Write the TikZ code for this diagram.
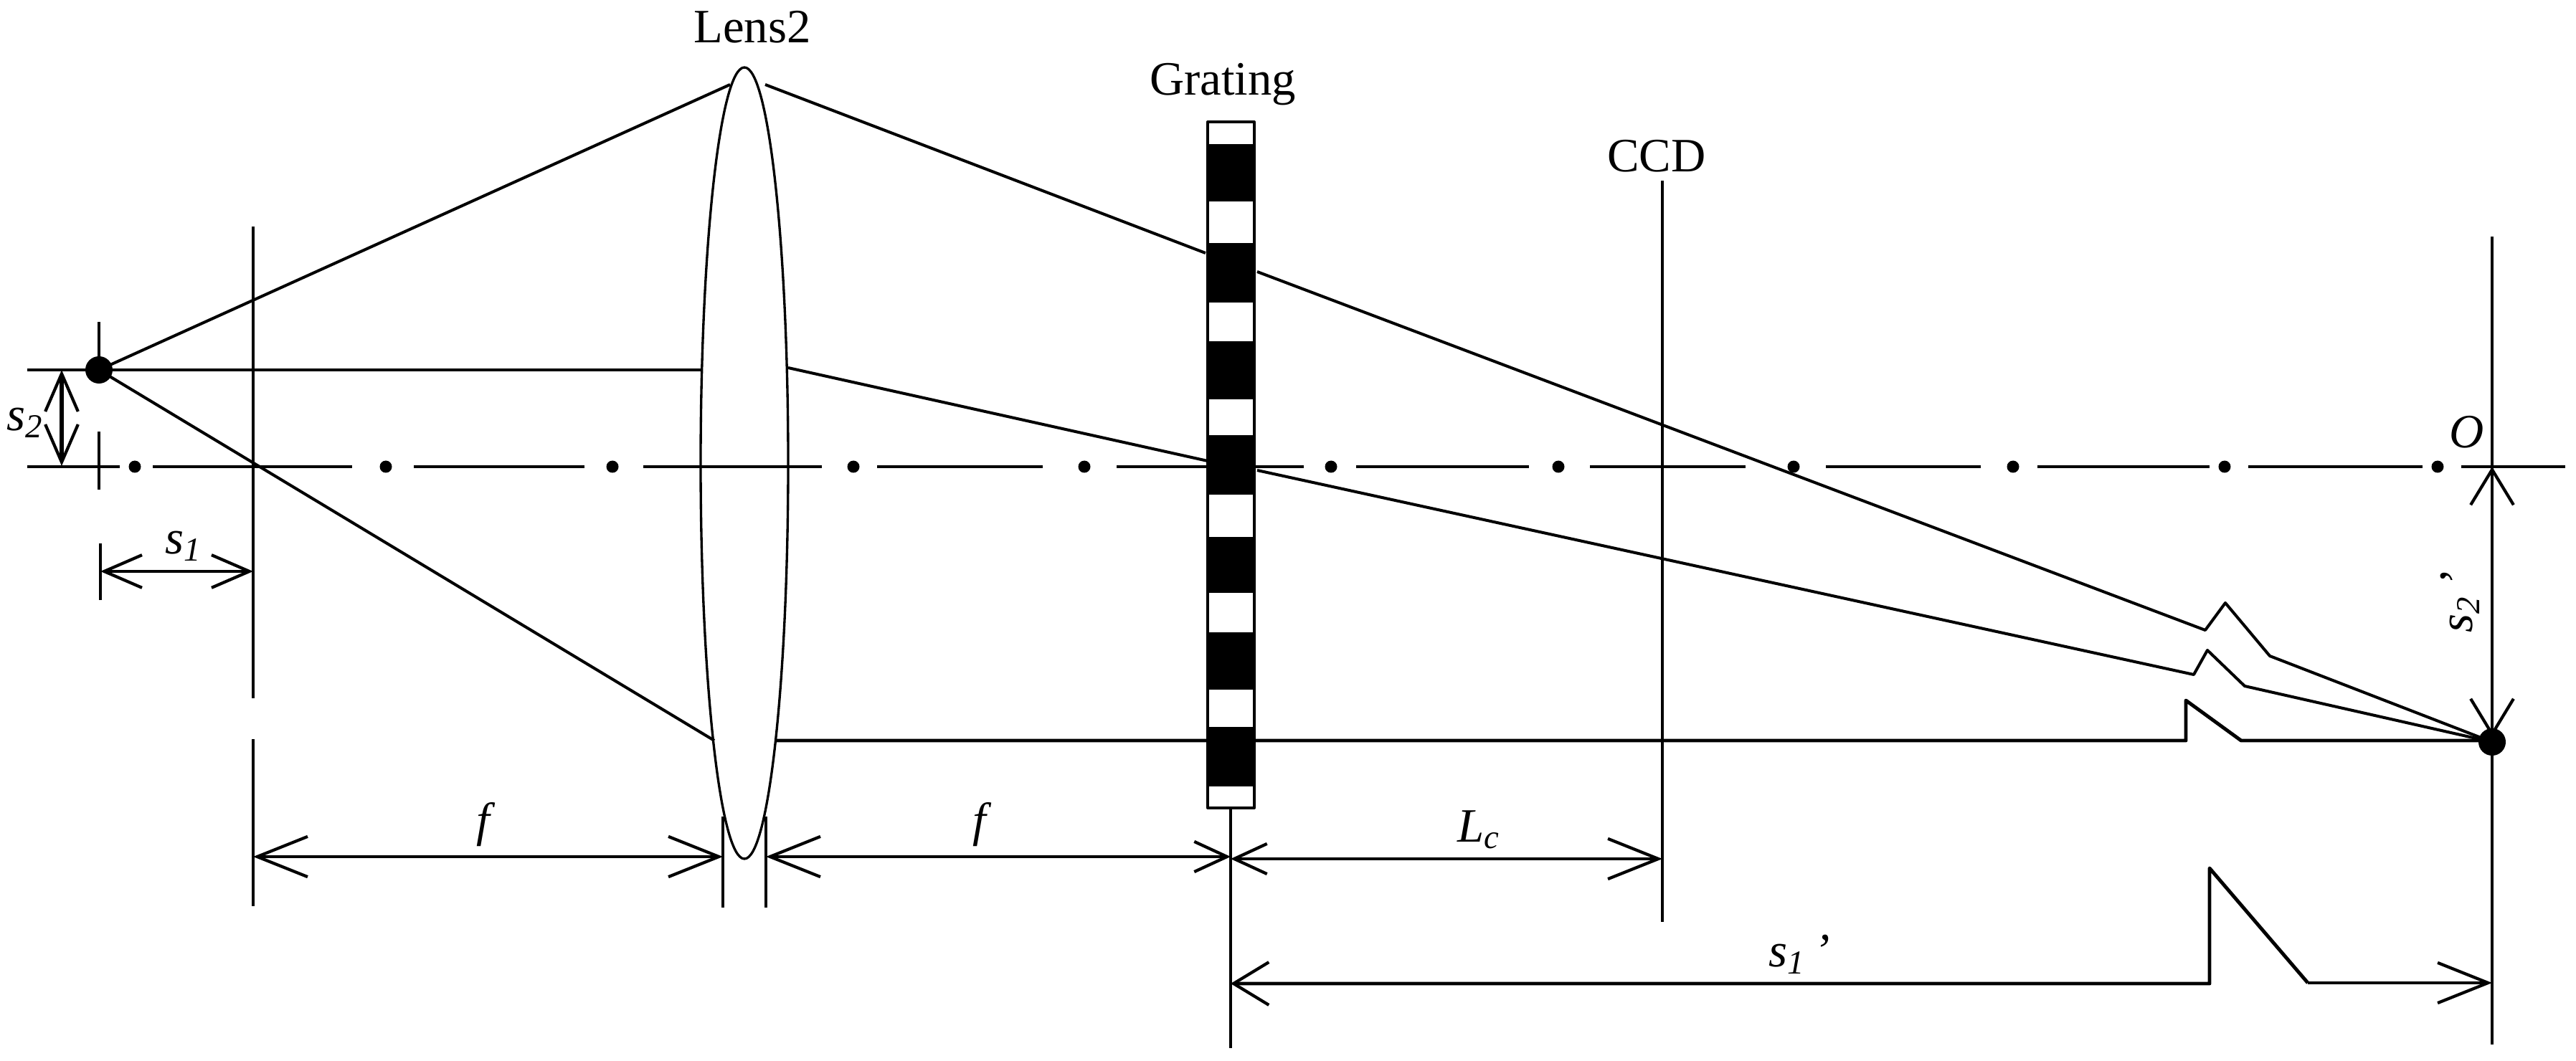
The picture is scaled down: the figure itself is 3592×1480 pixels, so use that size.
\documentclass[tikz,border=0pt]{standalone}
\usepackage{fontspec}
\setmainfont{Liberation Serif}
\usetikzlibrary{arrows.meta}
\tikzset{
	bigbarb/.tip={Straight Barb[length=20pt,width=16pt,line width=1.2pt]},
	midbarb/.tip={Straight Barb[length=15pt,width=13pt,line width=1.2pt]},
	widebarb/.tip={Straight Barb[length=14pt,width=17pt,line width=1.2pt]},
	smallbarb/.tip={Straight Barb[length=13pt,width=12pt,line width=1.2pt]},
	lbl/.style={font=\fontsize{19pt}{21pt}\selectfont,inner sep=0pt},
	dimline/.style={line width=1.4pt}
}
\begin{document}
\begin{tikzpicture}[x=0.1mm,y=-0.1mm,line width=1.15pt,line join=round]
	\useasboundingbox (0,0) rectangle (3592,1480);
	\def\axisy{651} \def\srcx{138} \def\srcy{516} \def\imgx{3475} \def\imgy{1035}
	% optical axis
	\foreach \xa/\xb in {38/167,213/491,577/815,897/1146,1223/1454,1557/1684,1750/1818,1891/2132,2217/2434,2546/2762,2841/3081,3135/3378,3432/3577}
		\draw[dimline] (\xa,\axisy)--(\xb,\axisy);
	\foreach \xa in {188,538,854,1190,1512,1856,2173,2501,2807,3102,3399}
		\fill (\xa,\axisy) circle (8.5);
	% vertical marks
	\draw (\srcx,449)--(\srcx,\srcy);
	\draw (\srcx,602)--(\srcx,683);
	\draw (140,758)--(140,837);
	\draw (353,316)--(353,974);
	\draw (353,1031)--(353,1264);
	\draw (1008,1139)--(1008,1266);
	\draw (1068,1139)--(1068,1266);
	\draw (1716,1127)--(1716,1462);
	\draw (2318,252)--(2318,1286);
	\draw[dimline] (\imgx,330)--(\imgx,1457);
	% lens
	\draw[line width=0.95pt] (1038,646) ellipse (61 and 552);
	% grating
	\draw (1684,170) rectangle (1749,1127);
	\foreach \ya/\yb in {201/281,339/422,476/557,607/690,749/827,882/962,1014/1097}
		\fill (1682,\ya) rectangle (1751,\yb);
	% rays
	\draw (\srcx,\srcy)--(1018,118);
	\draw (\srcx,\srcy)--(977,\srcy);
	\draw (\srcx,\srcy)--(996,1033);
	\draw (1067,118)--(1681,353);
	\draw (1753,379)--(3075,879)--(3103,841)--(3165,915)--(\imgx,\imgy);
	\draw (1099,513)--(1684,643);
	\draw (1753,656)--(3059,941)--(3078,907)--(3130,957)--(\imgx,\imgy);
	\draw[dimline] (1082,1033)--(3048,1033)--(3048,977)--(3125,1033)--(\imgx,1033);
	\fill (\srcx,\srcy) circle (19);
	\fill (\imgx,\imgy) circle (19);
	% dimensions
	\draw (38,\srcy)--(\srcx,\srcy);
	\draw[line width=1.9pt,midbarb-midbarb] (86,\srcy)--(86,650);
	\draw[midbarb-midbarb] (140,797)--(353,797);
	\draw[dimline,bigbarb-bigbarb] (353,1195)--(1008,1195);
	\draw[dimline,bigbarb-smallbarb] (1068,1195)--(1716,1195);
	\draw[dimline,smallbarb-bigbarb] (1716,1198)--(2318,1198);
	\draw[dimline,widebarb-] (1716,1372)--(3081,1372)--(3081,1211)--(3218,1371);
	\draw[dimline,-bigbarb] (3218,1371)--(\imgx,1371);
	\draw[dimline,widebarb-widebarb] (\imgx,651)--(\imgx,1028);
	% labels
	\node[lbl] (lens) at (1049,38) {Lens2};
	\node[lbl] (grating) at (1705,118) {Grating};
	\node[lbl] (ccd) at (2310,218) {CCD};
	\node[lbl] (oo) at (3440,603) {\textit{O}};
	\node[lbl] (ftwo) at (678,1150) {\textit{f}};
	\node[lbl] (fone) at (1370,1150) {\textit{f}};
	\node[lbl] (lc) at (2062,1157) {\textit{L\textsubscript{c}}};
	\node[lbl] (sone) at (256,762) {\textit{s\textsubscript{1}}};
	\node[lbl] (stwo) at (35,590) {\textit{s\textsubscript{2}}};
	\node[lbl] (soneb) at (2509,1331) {\textit{s\textsubscript{1}\,'}};
	\node[lbl,rotate=90] (stwob) at (3430,840) {\textit{s\textsubscript{2}\,'}};
\end{tikzpicture}
\end{document}
